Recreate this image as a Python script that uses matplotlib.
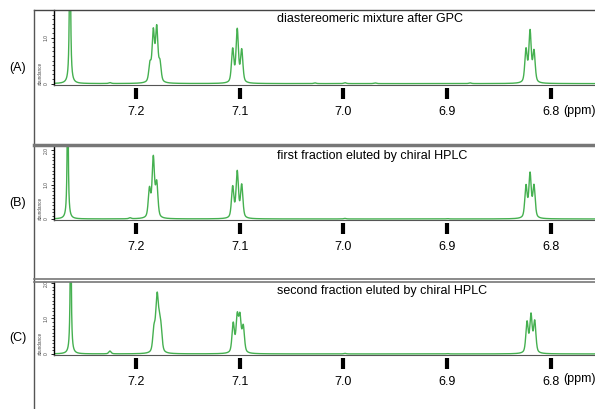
import numpy as np
import matplotlib.pyplot as plt
from matplotlib.lines import Line2D
from matplotlib.ticker import AutoMinorLocator

plt.rcParams['font.family'] = ['Liberation Sans', 'DejaVu Sans']

W, H = 595, 409

# ---------------- data ----------------
ppm_ticks = [7.2, 7.1, 7.0, 6.9, 6.8]
ppm_labels = ['7.2', '7.1', '7.0', '6.9', '6.8']
ppm_left, ppm_right = 7.2790, 6.7576

titles = ['diastereomeric mixture after GPC',
          'first fraction eluted by chiral HPLC',
          'second fraction eluted by chiral HPLC']
panel_names = ['(A)', '(B)', '(C)']

# CHCl3 solvent line (off scale) in each panel
solvent_pos = [7.2636, 7.2658, 7.2629]
solvent_hgt = [4.0, 4.0, 4.0]

# peak lists: position (ppm) and height (abundance)
a_pos = [7.2251,
         7.1865, 7.1833, 7.1800, 7.1769,
         7.1068, 7.1024, 7.0981,
         7.0275, 6.9986, 6.9696, 6.8780,
         6.8241, 6.8202, 6.8164]
a_hgt = [0.02,
         0.38, 1.08, 1.15, 0.40,
         0.72, 1.14, 0.70,
         0.015, 0.02, 0.015, 0.015,
         0.71, 1.10, 0.67]

b_pos = [7.2058,
         7.1870, 7.1833, 7.1800,
         7.1068, 7.1024, 7.0981,
         6.9986, 6.9000,
         6.8241, 6.8202, 6.8164]
b_hgt = [0.03,
         0.82, 1.72, 0.98,
         0.90, 1.33, 0.95,
         0.015, 0.01,
         0.92, 1.26, 0.92]

c_pos = [7.2251,
         7.1827, 7.1807, 7.1795, 7.1775, 7.1759,
         7.1063, 7.1024, 7.0998, 7.0966,
         6.9986, 6.9000,
         6.8231, 6.8193, 6.8157]
c_hgt = [0.08,
         0.60, 0.35, 1.30, 0.60, 0.55,
         0.82, 0.98, 0.95, 0.72,
         0.015, 0.01,
         0.86, 1.05, 0.88]

# ---------------- layout (pixels) ----------------
# (top, baseline, ymax, yticks)
panels = [(10, 85, 1.60, [0, 1.0]),
          (147, 220, 2.09, [0, 1.0, 2.0]),
          (282, 355, 2.03, [0, 1.0, 2.0])]
peaks = [(a_pos, a_hgt), (b_pos, b_hgt), (c_pos, c_hgt)]

green = '#45b050'
hw = 0.00135        # half width of the multiplet lines
hw_solv = 0.0006    # solvent line is sharper
x = np.linspace(ppm_left, ppm_right, 15000)

fig = plt.figure(figsize=(W / 100, H / 100), dpi=100)


def fx(px):
    return px / W


def fy(py):
    return 1 - py / H


def line_shape(p, h, w):
    r2 = ((x - p) / w) ** 2
    return h * (0.5 / (1 + r2) + 0.5 * np.exp(-np.log(2) * r2))


for i, (top, base, ymax, yt) in enumerate(panels):
    ax = fig.add_axes([fx(54), fy(base), fx(595 - 54), (base - top) / H])
    pos, hgt = peaks[i]
    y = solvent_hgt[i] / (1 + ((x - solvent_pos[i]) / hw_solv) ** 2)
    for p, h in zip(pos, hgt):
        y = y + line_shape(p, h, hw)
    ax.plot(x, y, color=green, lw=1.0)
    ax.set_xlim(ppm_left, ppm_right)
    ax.set_ylim(-0.03, ymax)

    for s in ['top', 'right']:
        ax.spines[s].set_visible(False)
    ax.spines['bottom'].set_linestyle((0, (1, 1)))
    ax.spines['bottom'].set_color('#555555')
    ax.spines['left'].set_linewidth(1.0)
    ax.set_xticks([])
    ax.set_yticks(yt)
    ax.set_yticklabels(['0' if v == 0 else f'{v:.1f}' for v in yt],
                       rotation=90, va='center', fontsize=3.5, color='#444444')
    ax.yaxis.set_minor_locator(AutoMinorLocator(10))
    ax.tick_params(axis='y', which='major', length=2.5, width=0.6, pad=1.5)
    ax.tick_params(axis='y', which='minor', length=1.2, width=0.5)
    ax.text(-0.026, 0.0, 'abundance', transform=ax.transAxes, rotation=90,
            ha='center', va='bottom', fontsize=3.3, color='#444444')

    # big ppm ticks below the baseline
    sec = ax.secondary_xaxis(-2.5 / (base - top))
    sec.set_xticks(ppm_ticks)
    sec.set_xticklabels(ppm_labels)
    sec.spines['bottom'].set_visible(False)
    sec.tick_params(axis='x', length=8, width=3, direction='out', labelsize=9, pad=5)

    fig.text(fx(277), fy(top + 9), titles[i], fontsize=9, va='center', ha='left')
    fig.text(fx(18), fy(base - 17), panel_names[i], fontsize=9, va='center', ha='center')

fig.text(fx(563), fy(111), '(ppm)', fontsize=9, va='center', ha='left')
fig.text(fx(563), fy(379), '(ppm)', fontsize=9, va='center', ha='left')

# frame lines
frame = [((34, 595), (10, 10), 1.0, '#444444'),
         ((33.5, 33.5), (10, 409), 1.0, '#555555'),
         ((34, 595), (145, 145), 2.5, '#777777'),
         ((34, 595), (278.5, 278.5), 1.2, '#777777'),
         ((34, 595), (281.5, 281.5), 1.2, '#777777')]
for xs, ys, lw, col in frame:
    fig.add_artist(Line2D([fx(v) for v in xs], [fy(v) for v in ys],
                          lw=lw, color=col, transform=fig.transFigure))

fig.savefig('out.png', dpi=100)
